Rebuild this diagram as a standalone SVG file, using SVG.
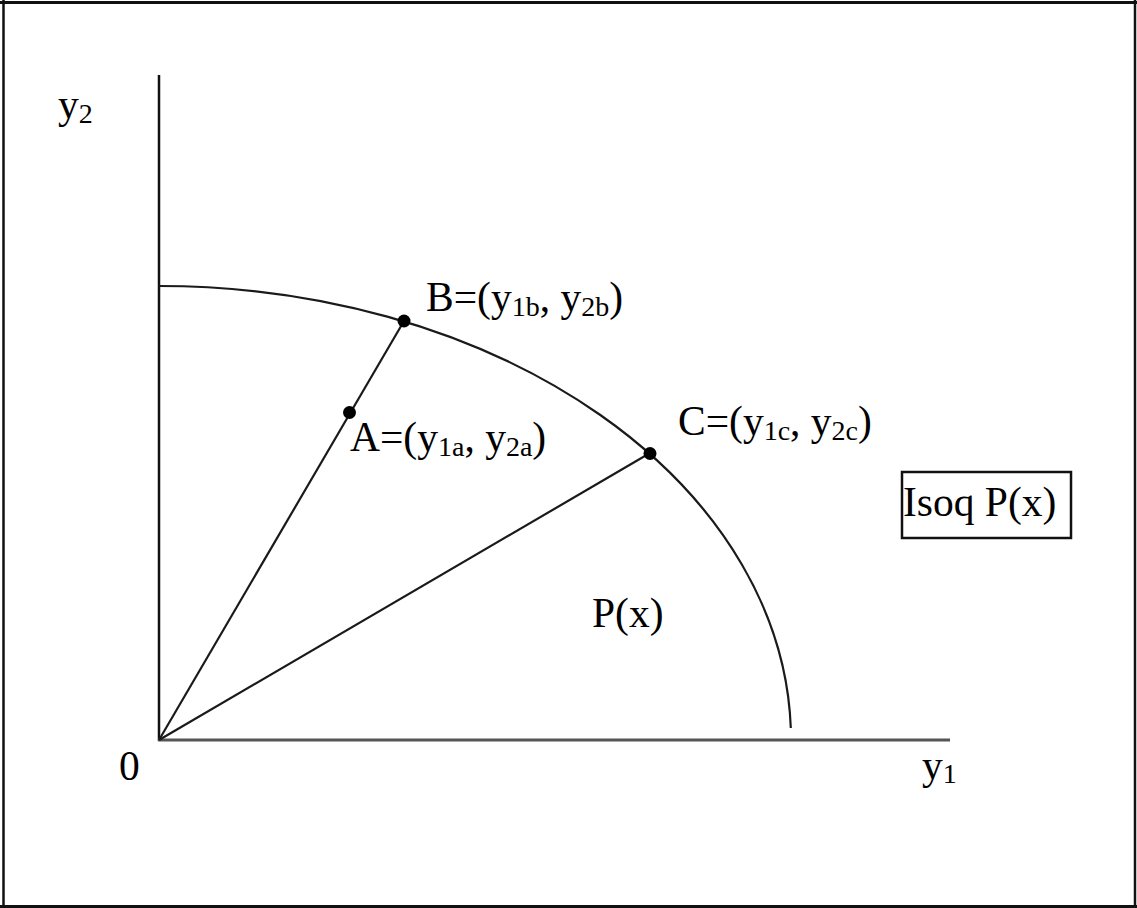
<svg xmlns="http://www.w3.org/2000/svg" width="1137" height="908" viewBox="0 0 1137 908">
<style>
.t{font-family:"Liberation Serif","Times New Roman",serif;font-size:41.5px;fill:#000}
.s{font-size:28px}
.ln{stroke:#1a1a1a;stroke-width:2.2;fill:none}
.dot{fill:#000}
</style>
<rect width="1137" height="908" fill="#fff"/>
<g id="frame" fill="none" stroke="#111">
<line x1="0" y1="2.5" x2="1137" y2="2.5" stroke-width="3"/>
<line x1="3.5" y1="0" x2="3.5" y2="908" stroke-width="2.5"/>
<line x1="1135" y1="0" x2="1135" y2="908" stroke-width="2.5"/>
<line x1="0" y1="906.5" x2="1137" y2="906.5" stroke-width="3"/>
</g>
<g id="axes">
<line x1="159" y1="75" x2="159" y2="741" stroke="#111" stroke-width="2.5"/>
<line x1="158" y1="740" x2="950" y2="740" stroke="#555" stroke-width="3"/>
</g>
<g id="connectors">
<path class="ln" d="M159,286 A632,454 0 0 1 790.8,728"/>
<line class="ln" x1="159" y1="740" x2="404" y2="321"/>
<line class="ln" x1="159" y1="740" x2="650" y2="453"/>
</g>
<g id="pointA"><circle class="dot" cx="349.5" cy="412.5" r="6.5"/>
<text class="t" x="350" y="451">A=(y<tspan class="s" dy="5">1a</tspan><tspan dy="-5">, y</tspan><tspan class="s" dy="5">2a</tspan><tspan dy="-5">)</tspan></text></g>
<g id="pointB"><circle class="dot" cx="404" cy="321" r="6.5"/>
<text class="t" x="426" y="311">B=(y<tspan class="s" dy="5">1b</tspan><tspan dy="-5">, y</tspan><tspan class="s" dy="5">2b</tspan><tspan dy="-5">)</tspan></text></g>
<g id="pointC"><circle class="dot" cx="650" cy="453.5" r="6.5"/>
<text class="t" x="678" y="435">C=(y<tspan class="s" dy="5">1c</tspan><tspan dy="-5">, y</tspan><tspan class="s" dy="5">2c</tspan><tspan dy="-5">)</tspan></text></g>
<g id="isoq"><rect x="902" y="472" width="169" height="66" fill="none" stroke="#111" stroke-width="2.5"/>
<text class="t" x="903" y="516">Isoq P(x)</text></g>
<g id="labels">
<text class="t" x="58" y="118">y<tspan class="s" dy="5">2</tspan></text>
<text class="t" x="922" y="779">y<tspan class="s" dy="4">1</tspan></text>
<text class="t" x="119" y="780">0</text>
<text class="t" x="592" y="627">P(x)</text>
</g>
</svg>
